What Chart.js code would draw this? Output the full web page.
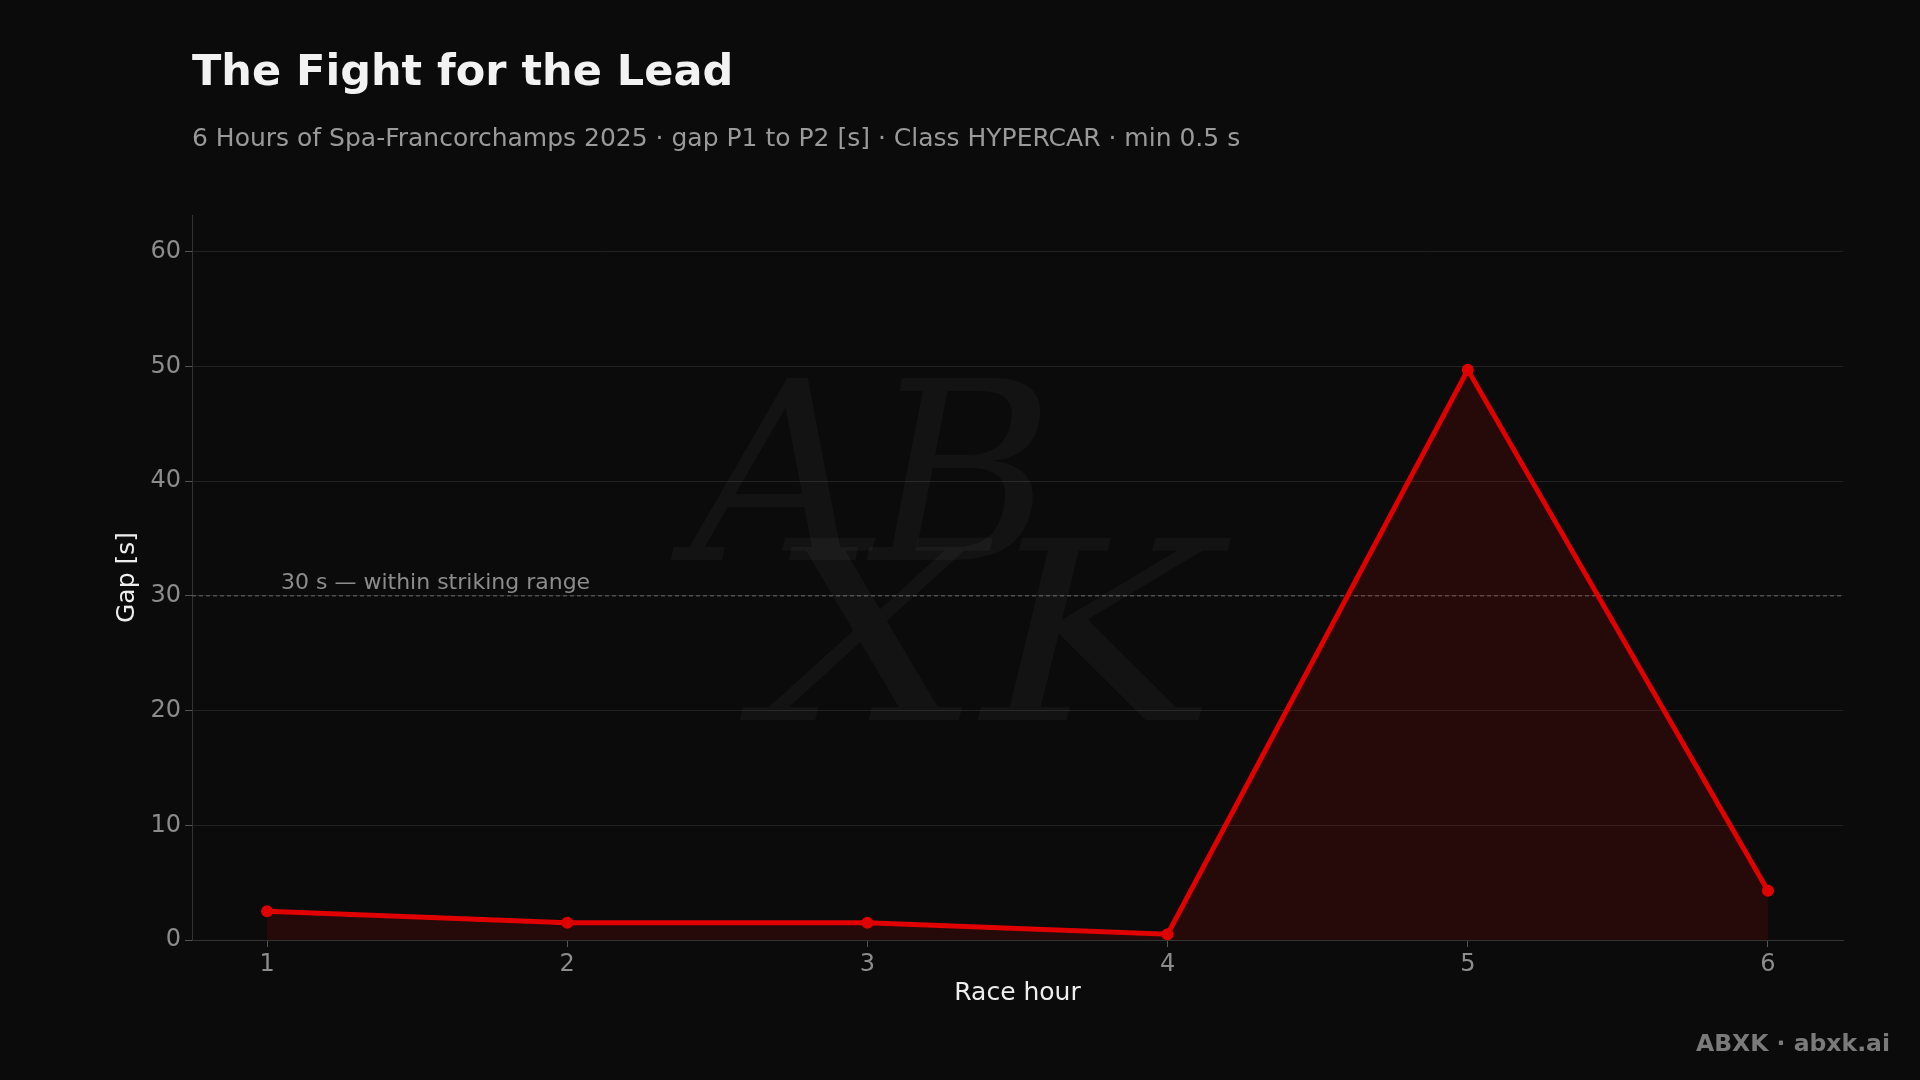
<!DOCTYPE html>
<html>
<head>
<meta charset="utf-8">
<script src="https://cdn.jsdelivr.net/npm/chart.js@4.4.1/dist/chart.umd.min.js"></script>
<style>
  html, body { margin: 0; padding: 0; background: #0b0b0b; }
  #wrap { width: 1920px; height: 1080px; position: relative; }
</style>
</head>
<body>
<div id="wrap"><canvas id="myChart" width="1920" height="1080"></canvas></div>
<script>
// race hour vs gap P1 to P2
const hours = [1, 2, 3, 4, 5, 6];
const gaps = [2.5, 1.5, 1.5, 0.5, 49.7, 4.3];
const yTicks = [0, 10, 20, 30, 40, 50, 60];
const refValue = 30;
const refLabel = '30 s \u2014 within striking range';

const titleText = 'The Fight for the Lead';
const subtitleText = '6 Hours of Spa-Francorchamps 2025 \u00b7 gap P1 to P2 [s] \u00b7 Class HYPERCAR \u00b7 min 0.5 s';
const footerText = 'ABXK \u00b7 abxk.ai';

const red = '#e00000';
const font = 'DejaVu Sans';

const points = hours.map((h, i) => ({ x: h, y: gaps[i] }));

const decor = {
    id: 'decor',
    beforeDraw(chart) {
        const c = chart.ctx;
        c.save();
        c.fillStyle = '#0b0b0b';
        c.fillRect(0, 0, chart.width, chart.height);
        c.restore();
    },
    beforeDatasetsDraw(chart) {
        const c = chart.ctx;
        const area = chart.chartArea;
        const y = chart.scales.y;
        // watermark
        c.save();
        c.fillStyle = 'rgba(255,255,255,0.035)';
        c.font = 'italic 250px "DejaVu Serif"';
        c.textBaseline = 'alphabetic';
        c.fillText('AB', 690, 560);
        c.save();
        c.translate(760, 720);
        c.scale(1.25, 1);
        c.fillText('XK', 0, 0);
        c.restore();
        c.restore();
        // reference line
        const py = y.getPixelForValue(refValue);
        c.save();
        c.strokeStyle = '#6a6a6a';
        c.lineWidth = 1;
        c.setLineDash([4, 3]);
        c.beginPath();
        c.moveTo(area.left, py);
        c.lineTo(area.right, py);
        c.stroke();
        c.setLineDash([]);
        c.fillStyle = '#8c8c8c';
        c.font = '22px "' + font + '"';
        c.textBaseline = 'middle';
        c.fillText(refLabel, area.left + 89, py - 13);
        c.restore();
    },
    afterDraw(chart) {
        const c = chart.ctx;
        c.save();
        c.textBaseline = 'middle';
        c.fillStyle = '#f2f2f2';
        c.font = 'bold 43px "' + font + '"';
        c.fillText(titleText, 192, 74);
        c.fillStyle = '#9a9a9a';
        c.font = '25px "' + font + '"';
        c.fillText(subtitleText, 192, 139);
        c.fillStyle = '#7a7a7a';
        c.font = 'bold 23.5px "' + font + '"';
        c.textAlign = 'right';
        c.fillText(footerText, 1890, 1045);
        c.restore();
    }
};

const ctx = document.getElementById('myChart').getContext('2d');
new Chart(ctx, {
    type: 'line',
    data: {
        datasets: [{
            label: 'Gap',
            data: points,
            borderColor: red,
            backgroundColor: 'rgba(224,0,0,0.13)',
            fill: 'origin',
            borderWidth: 5,
            pointRadius: 6,
            pointBackgroundColor: red,
            pointBorderWidth: 0,
            tension: 0
        }]
    },
    options: {
        responsive: false,
        animation: false,
        layout: { padding: { left: 100, right: 77, top: 215, bottom: 0 } },
        plugins: {
            legend: { display: false },
            tooltip: { enabled: false }
        },
        scales: {
            x: {
                type: 'linear',
                min: 0.75,
                max: 6.25,
                afterBuildTicks: (s) => { s.ticks = hours.map(v => ({ value: v })); },
                afterFit: (s) => { s.height = 140; },
                grid: { drawOnChartArea: false, color: '#555', tickLength: 7 },
                border: { color: '#333' },
                ticks: { color: '#8c8c8c', font: { family: font, size: 24 }, padding: 3 },
                title: {
                    display: true, text: 'Race hour', color: '#eeeeee',
                    font: { family: font, size: 25 }, padding: { top: 4, bottom: 72 }
                }
            },
            y: {
                min: 0,
                max: 63.2,
                afterBuildTicks: (s) => { s.ticks = yTicks.map(v => ({ value: v })); },
                afterFit: (s) => { s.width = 92; },
                grid: { color: '#222', tickLength: 7, tickColor: '#555' },
                border: { color: '#333' },
                ticks: { color: '#8c8c8c', font: { family: font, size: 24 }, padding: 4 },
                title: {
                    display: true, text: 'Gap [s]', color: '#eeeeee',
                    font: { family: font, size: 25 }, padding: { top: 12, bottom: 4 }
                }
            }
        }
    },
    plugins: [decor]
});
</script>
</body>
</html>
